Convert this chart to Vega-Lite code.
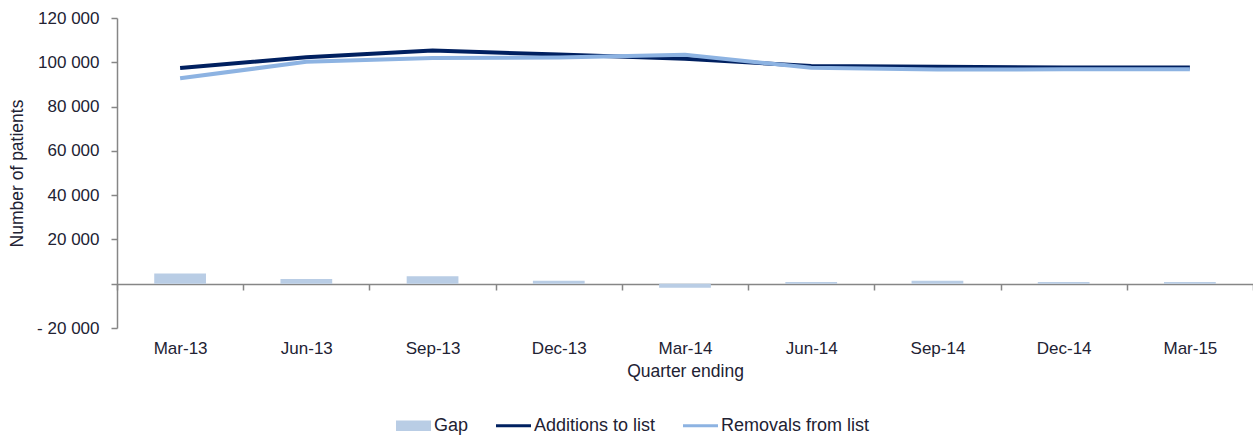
{
  "$schema": "https://vega.github.io/schema/vega-lite/v6.json",
  "autosize": "none",
  "width": 1136,
  "height": 310,
  "padding": {"left": 117, "top": 18, "right": 0, "bottom": 108},
  "background": "white",
  "config": {
    "font": "Liberation Sans",
    "view": {"stroke": null},
    "axis": {"grid": false, "domainColor": "#868686", "tickColor": "#868686", "labelColor": "#222233", "titleColor": "#222233", "labelFont": "Liberation Sans", "titleFont": "Liberation Sans", "labelFontSize": 17, "titleFontSize": 17.5, "titleFontWeight": "normal", "domainWidth": 1.5, "tickWidth": 1.5, "tickSize": 6},
    "legend": {
      "title": null,
      "orient": "none",
      "direction": "horizontal",
      "legendX": 279,
      "legendY": 390,
      "symbolSize": 1225,
      "labelFontSize": 18,
      "labelColor": "#222233",
      "labelFont": "Liberation Sans",
      "labelOffset": 3,
      "columnPadding": 27,
      "padding": 0
    }
  },
  "data": {
    "values": [
      {"quarter": "Mar-13", "Additions to list": 97400, "Removals from list": 92800, "gap": 4600},
      {"quarter": "Jun-13", "Additions to list": 102300, "Removals from list": 100200, "gap": 2100},
      {"quarter": "Sep-13", "Additions to list": 105300, "Removals from list": 101900, "gap": 3400},
      {"quarter": "Dec-13", "Additions to list": 103500, "Removals from list": 102200, "gap": 1300},
      {"quarter": "Mar-14", "Additions to list": 101600, "Removals from list": 103400, "gap": -1800},
      {"quarter": "Jun-14", "Additions to list": 98300, "Removals from list": 97500, "gap": 800},
      {"quarter": "Sep-14", "Additions to list": 98000, "Removals from list": 96700, "gap": 1300},
      {"quarter": "Dec-14", "Additions to list": 97600, "Removals from list": 96800, "gap": 800},
      {"quarter": "Mar-15", "Additions to list": 97600, "Removals from list": 96800, "gap": 800}
    ]
  },
  "encoding": {
    "x": {
      "field": "quarter", "type": "nominal",
      "sort": ["Mar-13","Jun-13","Sep-13","Dec-13","Mar-14","Jun-14","Sep-14","Dec-14","Mar-15"],
      "scale": {"type": "band", "paddingInner": 0, "paddingOuter": 0},
      "axis": {"title": "Quarter ending", "labelAngle": 0, "offset": -44, "tickBand": "extent", "labelPadding": 50, "titlePadding": 6}
    }
  },
  "layer": [
    {
      "mark": {"type": "bar", "width": {"band": 0.41}},
      "encoding": {
        "y": {
          "field": "gap", "type": "quantitative",
          "scale": {"domain": [-20000, 120000], "nice": false, "zero": false},
          "axis": {
            "title": "Number of patients",
            "values": [-20000, 0, 20000, 40000, 60000, 80000, 100000, 120000],
            "labelExpr": "datum.value == 0 ? '' : (datum.value < 0 ? '- ' + replace(format(-datum.value, ','), ',', ' ') : replace(format(datum.value, ','), ',', ' '))",
            "labelPadding": 12,
            "titlePadding": 10
          }
        },
        "color": {
          "datum": "Gap",
          "scale": {"domain": ["Gap", "Additions to list", "Removals from list"], "range": ["#b9cde5", "#002060", "#8db3e2"]},
          "legend": {
            "title": null,
            "encode": {
              "symbols": {
                "update": {
                  "shape": {"signal": "datum.value === 'Gap' ? 'M-1,-0.3H1V0.3H-1Z' : 'M-1,-0.09H1V0.09H-1Z'"},
                  "fill": {"signal": "scale('color', datum.value)"},
                  "stroke": {"value": "transparent"},
                  "strokeWidth": {"value": 0},
                  "opacity": {"value": 1},
                  "fillOpacity": {"value": 1}
                }
              }
            }
          }
        }
      }
    },
    {
      "transform": [{"fold": ["Additions to list", "Removals from list"], "as": ["series", "value"]}],
      "mark": {"type": "line", "strokeWidth": 4, "interpolate": "linear"},
      "encoding": {
        "y": {"field": "value", "type": "quantitative"},
        "color": {
          "field": "series", "type": "nominal",
          "legend": {
            "title": null,
            "encode": {
              "symbols": {
                "update": {
                  "shape": {"signal": "datum.value === 'Gap' ? 'M-1,-0.3H1V0.3H-1Z' : 'M-1,-0.09H1V0.09H-1Z'"},
                  "fill": {"signal": "scale('color', datum.value)"},
                  "stroke": {"value": "transparent"},
                  "strokeWidth": {"value": 0},
                  "opacity": {"value": 1},
                  "fillOpacity": {"value": 1}
                }
              }
            }
          }
        }
      }
    }
  ]
}
